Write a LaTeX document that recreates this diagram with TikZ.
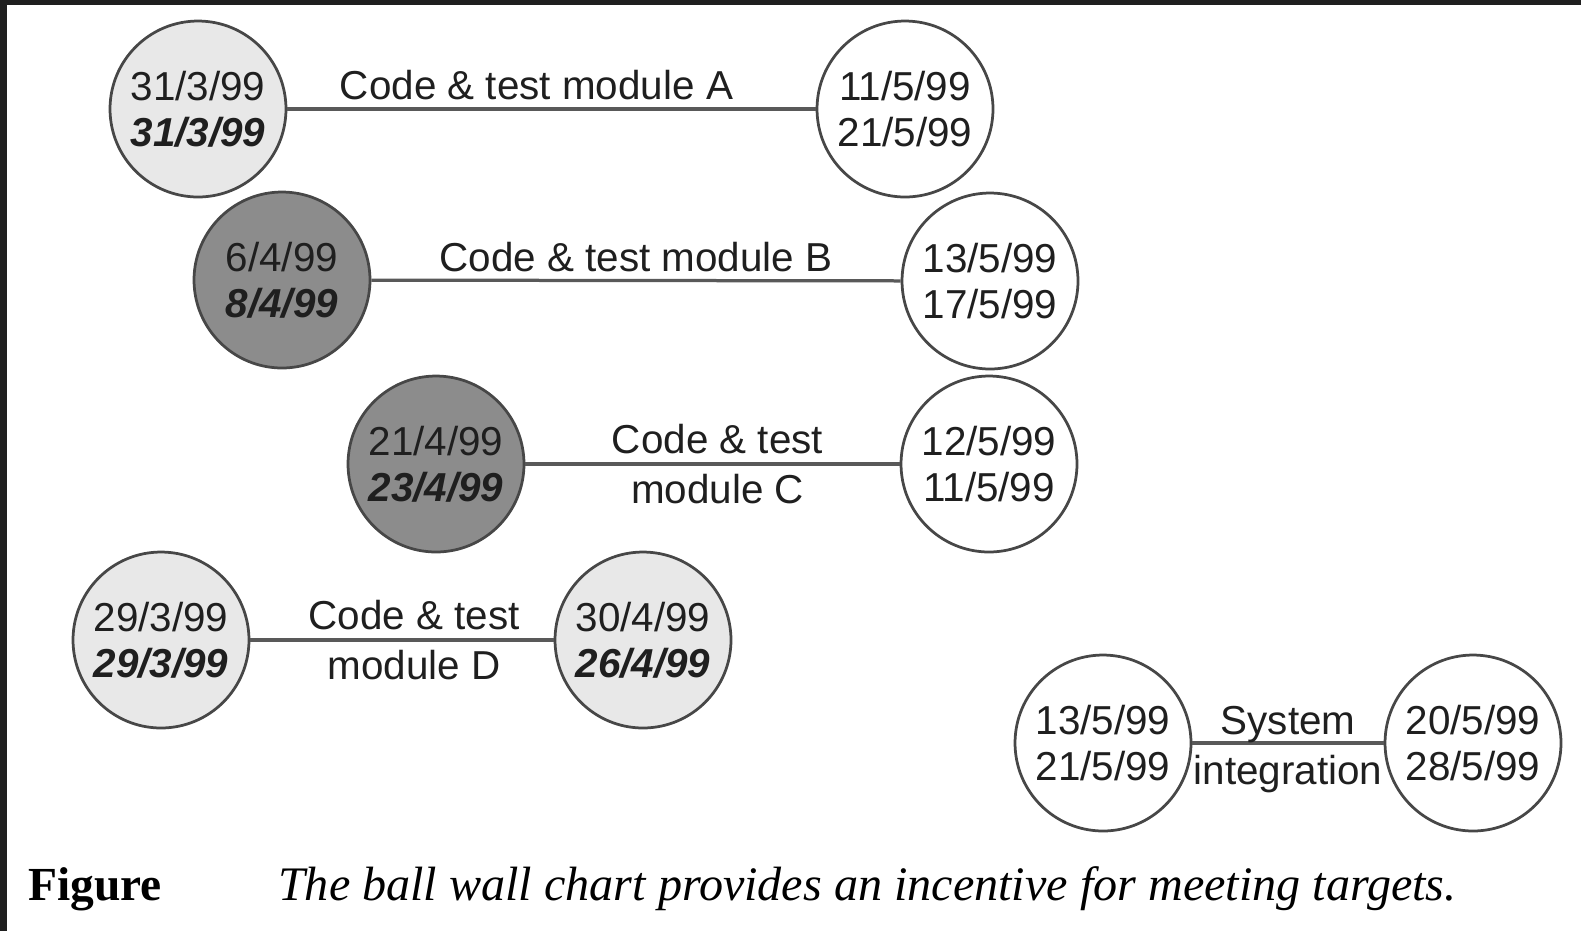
\documentclass[tikz,border=0pt]{standalone}
\usepackage{fontspec}
\setmainfont{Liberation Sans}
\newfontfamily\captionserif{Liberation Serif}
\usepackage{tikz}
\usetikzlibrary{patterns}

\begin{document}
\begin{tikzpicture}[x=0.02cm, y=-0.02cm,
  every node/.style={font=\fontsize{23}{26}\selectfont, text=black!88},
  ball/.style={circle, draw=black!72, line width=0.055cm, minimum size=3.52cm, inner sep=0pt, align=center},
  doneball/.style={ball, fill=black!9},
  lateball/.style={ball, fill=black!45},
  openball/.style={ball, fill=white},
  link/.style={draw=black!65, line width=0.065cm},
  task/.style={font=\fontsize{23}{28.5}\selectfont, align=center, inner sep=0pt}]
  \useasboundingbox (0,0) rectangle (1581,931);
  \fill[black!88] (0,0) rectangle (1581,5);
  \fill[black!88] (0,0) rectangle (7,931);
  % balls: planned date over actual date
  \node[doneball] (a1) at (198,109) {31/3/99\\\textbf{\textit{31/3/99}}};
  \node[openball] (a2) at (905,109) {11/5/99\\21/5/99};
  \node[lateball] (b1) at (282,280) {6/4/99\\\textbf{\textit{8/4/99}}};
  \node[openball] (b2) at (990,281) {13/5/99\\17/5/99};
  \node[lateball] (c1) at (436,464) {21/4/99\\\textbf{\textit{23/4/99}}};
  \node[openball] (c2) at (989,464) {12/5/99\\11/5/99};
  \node[doneball] (d1) at (161,640) {29/3/99\\\textbf{\textit{29/3/99}}};
  \node[doneball] (d2) at (643,640) {30/4/99\\\textbf{\textit{26/4/99}}};
  \node[openball] (s1) at (1103,743) {13/5/99\\21/5/99};
  \node[openball] (s2) at (1473,743) {20/5/99\\28/5/99};
  % activities
  \draw[link] (a1) -- node[above, inner sep=4pt, xshift=-0.3cm] {Code \& test module A} (a2);
  \draw[link] (b1) -- node[above, inner sep=4pt] {Code \& test module B} (b2);
  \draw[link] (c1) -- node[task, xshift=0.1cm] {Code \& test\\module C} (c2);
  \draw[link] (d1) -- node[task, xshift=0.24cm] {Code \& test\\module D} (d2);
  \draw[link] (s1) -- node[task, yshift=-0.14cm] {System\\integration} (s2);
  % caption
  \node[anchor=base west, text=black, font=\captionserif\bfseries\fontsize{27}{30}\selectfont] (fig) at (22,900) {Figure};
  \node[anchor=base west, text=black, font=\captionserif\itshape\fontsize{27.4}{30}\selectfont] (cap) at (272,900) {The ball wall chart provides an incentive for meeting targets.};
\end{tikzpicture}
\end{document}
